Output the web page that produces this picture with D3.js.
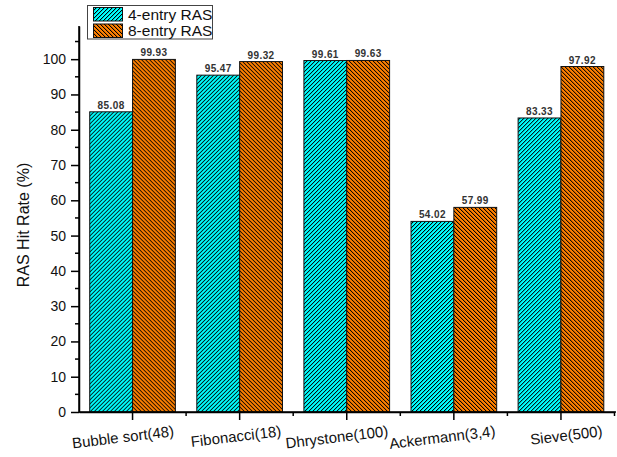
<!DOCTYPE html>
<html>
<head>
<meta charset="utf-8">
<script src="https://cdn.jsdelivr.net/npm/d3@7"></script>
<style>
  html, body { margin: 0; padding: 0; background: #fff; }
  svg { display: block; font-family: "Liberation Sans", Arial, sans-serif; }
</style>
</head>
<body>
<svg id="chart" width="617" height="457"></svg>
<script>
const categories = ["Bubble sort(48)", "Fibonacci(18)", "Dhrystone(100)", "Ackermann(3,4)", "Sieve(500)"];
const seriesNames = ["4-entry RAS", "8-entry RAS"];
const ras4 = [85.08, 95.47, 99.61, 54.02, 83.33];
const ras8 = [99.93, 99.32, 99.63, 57.99, 97.92];
const yTicks = [0, 10, 20, 30, 40, 50, 60, 70, 80, 90, 100];
const yMinorTicks = [5, 15, 25, 35, 45, 55, 65, 75, 85, 95, 105];

const svg = d3.select("#chart");
const mLeft = 79, mRight = 614.5, mTop = 26, mBottom = 412;

const y = d3.scaleLinear().domain([0, 109.4]).range([mBottom, mTop]);
const x = d3.scaleBand().domain(categories).range([mLeft, mRight]).paddingInner(0.2).paddingOuter(0.1);
const xs = d3.scaleBand().domain(seriesNames).range([0, x.bandwidth()]).padding(0);

const defs = svg.append("defs");
function pattern(id, fill, dir) {
  const p = defs.append("pattern").attr("id", id).attr("patternUnits", "userSpaceOnUse")
    .attr("width", 4).attr("height", 4);
  p.append("rect").attr("width", 4).attr("height", 4).attr("fill", fill);
  for (let r = 0; r < 4; r++) {
    const c = dir > 0 ? (3 - r) : r;
    p.append("rect").attr("x", c).attr("y", r).attr("width", 1).attr("height", 1)
      .attr("fill", "#000").attr("shape-rendering", "crispEdges");
    p.append("rect").attr("x", (c + 1) % 4).attr("y", r).attr("width", 1).attr("height", 1)
      .attr("fill", "#000").attr("fill-opacity", 0.2).attr("shape-rendering", "crispEdges");
  }
}
pattern("pcyan", "#00ffff", 1);
pattern("porange", "#ff8000", -1);
const fills = { "4-entry RAS": "url(#pcyan)", "8-entry RAS": "url(#porange)" };

const rows = categories.map((c, i) => ({ cat: c, vals: [
  { s: seriesNames[0], v: ras4[i] }, { s: seriesNames[1], v: ras8[i] } ] }));

const g = svg.append("g").selectAll("g").data(rows).join("g")
  .attr("transform", d => `translate(${x(d.cat)},0)`);
g.selectAll("rect").data(d => d.vals).join("rect")
  .attr("x", d => xs(d.s))
  .attr("y", d => y(d.v))
  .attr("width", xs.bandwidth())
  .attr("height", d => y(0) - y(d.v))
  .attr("fill", d => fills[d.s])
  .attr("stroke", "#111").attr("stroke-width", 1);
g.selectAll("text").data(d => d.vals).join("text")
  .attr("x", d => xs(d.s) + xs.bandwidth() / 2)
  .attr("y", d => y(d.v) - 3)
  .attr("text-anchor", "middle")
  .attr("font-size", 10).attr("fill", "#333")
  .attr("font-weight", "bold")
  .attr("letter-spacing", 0.4)
  .text(d => d.v.toFixed(2));

// Y axis
const yAxis = svg.append("g").attr("transform", `translate(${mLeft},0)`)
  .call(d3.axisLeft(y).tickValues(yTicks).tickSize(8).tickSizeOuter(0).tickPadding(5));
yAxis.select(".domain").attr("stroke-width", 1.5);
yAxis.selectAll(".tick line").attr("stroke-width", 1.5);
yAxis.selectAll(".tick text").attr("font-size", 14).attr("fill", "#111")
  .attr("font-family", "Liberation Sans, Arial, sans-serif");
svg.append("g").attr("transform", `translate(${mLeft},0)`)
  .selectAll("line").data(yMinorTicks).join("line")
  .attr("x1", -4).attr("x2", 0).attr("y1", d => y(d)).attr("y2", d => y(d))
  .attr("stroke", "#000").attr("stroke-width", 1.5);
svg.append("line").attr("x1", mLeft).attr("x2", mLeft).attr("y1", y(0)).attr("y2", mTop)
  .attr("stroke", "#000").attr("stroke-width", 1.5);

// X axis
const xAxis = svg.append("g").attr("transform", `translate(0,${mBottom})`)
  .call(d3.axisBottom(x).tickSize(8).tickSizeOuter(0).tickFormat(""));
xAxis.select(".domain").attr("stroke-width", 1.5);
xAxis.selectAll(".tick line").attr("stroke-width", 1.5);
const bounds = categories.map((c, i) => x(c) - x.step() * x.paddingInner() / 2).slice(1).concat([mRight]);
svg.append("g").selectAll("line").data(bounds).join("line")
  .attr("x1", d => d).attr("x2", d => d).attr("y1", mBottom).attr("y2", mBottom + 4)
  .attr("stroke", "#000").attr("stroke-width", 1.5);
svg.append("line").attr("x1", mLeft).attr("x2", 616).attr("y1", mBottom).attr("y2", mBottom)
  .attr("stroke", "#000").attr("stroke-width", 1.5);

const lbl = svg.append("g").selectAll("g").data(categories).join("g")
  .attr("transform", d => `translate(${x(d) + x.bandwidth() / 2 + 42},${mBottom + 24})`);
lbl.append("g").attr("transform", "rotate(-7)")
  .append("text")
  .attr("text-anchor", "end")
  .attr("font-size", 15).attr("fill", "#111")
  .text(d => d);

// Y title
svg.append("text")
  .attr("transform", `translate(29,${(mTop + mBottom) / 2 + 6}) rotate(-90)`)
  .attr("text-anchor", "middle")
  .attr("font-size", 16).attr("fill", "#111")
  .text("RAS Hit Rate (%)");

// Legend
const lg = svg.append("g");
lg.append("rect").attr("x", 87.5).attr("y", 5.5).attr("width", 125).attr("height", 33.5)
  .attr("fill", "#fff").attr("stroke", "#444").attr("stroke-width", 1);
seriesNames.forEach((s, i) => {
  lg.append("rect").attr("x", 93.5).attr("y", 7.5 + i * 16.5).attr("width", 29).attr("height", 13.5)
    .attr("fill", fills[s]).attr("stroke", "#111").attr("stroke-width", 1);
  lg.append("text").attr("x", 128).attr("y", 19.5 + i * 16.5)
    .attr("font-size", 15.5).attr("fill", "#111").text(s);
});
</script>
</body>
</html>
